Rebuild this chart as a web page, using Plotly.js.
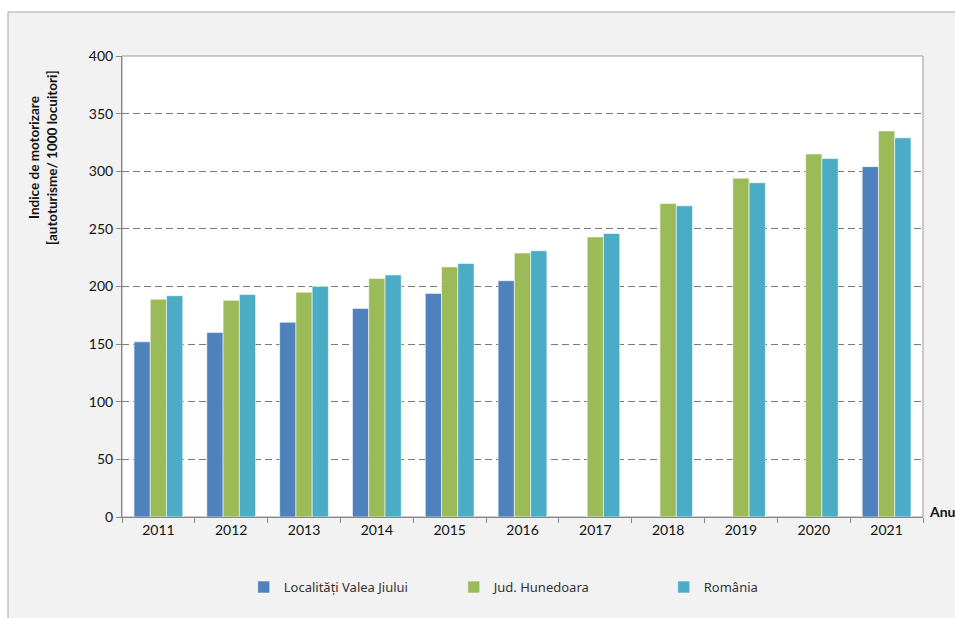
<!DOCTYPE html>
<html>
<head>
<meta charset="utf-8">
<script src="https://cdn.plot.ly/plotly-3.0.1.min.js"></script>
<style>html,body{margin:0;padding:0;background:#fff;}#chart{width:955px;height:618px;}</style>
</head>
<body>
<div id="chart"></div>
<script>
const years = ['2011','2012','2013','2014','2015','2016','2017','2018','2019','2020','2021'];
const valeaJiului = [152, 160, 169, 181, 194, 205, null, null, null, null, 304];
const hunedoara = [189, 188, 195, 207, 217, 229, 243, 272, 294, 315, 335];
const romania = [192, 193, 200, 210, 220, 231, 246, 270, 290, 311, 329];
const seriesNames = ['Localități Valea Jiului', 'Jud. Hunedoara', 'România'];
const seriesColors = ['#4f81bd', '#9bbb59', '#4bacc6'];
const yTitle = 'Indice de motorizare<br>[autoturisme/ 1000 locuitori]';
const xTitle = 'Anul';

const FONT = 'Lato, "Open Sans", sans-serif';
const data = [valeaJiului, hunedoara, romania].map((vals, i) => ({
  type: 'bar',
  x: years,
  y: vals,
  name: seriesNames[i],
  marker: {color: seriesColors[i], line: {color: 'rgba(255,255,255,0.55)', width: 1}},
  hoverinfo: 'x+y+name'
}));

const layout = {
  width: 955, height: 618,
  margin: {l: 122, r: 32, t: 56, b: 101, autoexpand: false},
  paper_bgcolor: '#ffffff',
  plot_bgcolor: 'rgba(0,0,0,0)',
  barmode: 'group',
  bargap: 0.33,
  bargroupgap: 0,
  showlegend: true,
  legend: {
    orientation: 'h', x: 0.152, xanchor: 'left', y: -0.152, yanchor: 'middle',
    font: {family: '"Noto Sans", sans-serif', size: 13, color: '#333'},
    entrywidth: 165, entrywidthmode: 'pixels',
    itemwidth: 30,
    bgcolor: 'rgba(0,0,0,0)'
  },
  xaxis: {
    type: 'category',
    tickson: 'boundaries',
    ticks: 'outside', ticklen: 5, tickcolor: '#878787',
    showline: true, linecolor: '#878787', linewidth: 1,
    showgrid: false,
    tickfont: {family: FONT, size: 14, color: '#111'},
    fixedrange: true
  },
  yaxis: {
    range: [0, 400],
    dtick: 50,
    ticks: 'outside', ticklen: 5, tickcolor: '#878787',
    showline: true, linecolor: '#878787', linewidth: 1,
    showgrid: true, gridcolor: '#7a7a7a', gridwidth: 1, griddash: '7px,4px',
    zeroline: false,
    tickfont: {family: FONT, size: 14, color: '#111'},
    fixedrange: true
  },
  shapes: [
    {type: 'rect', xref: 'paper', yref: 'paper', x0: -0.1423, x1: 1.2, y0: -0.4, y1: 1.0954,
     fillcolor: '#f2f2f2', line: {color: '#a6a6a6', width: 1}, layer: 'below'},
    {type: 'rect', xref: 'paper', yref: 'paper', x0: 0, x1: 1, y0: 0, y1: 1,
     fillcolor: '#ffffff', line: {color: '#9a9a9a', width: 1}, layer: 'below'}
  ],
  annotations: [
    {text: '<b>' + yTitle.replace('<br>', '</b><br><b>') + '</b>', xref: 'paper', yref: 'paper',
     x: -0.098, y: 0.78, xanchor: 'center', yanchor: 'middle', textangle: -90, showarrow: false,
     font: {family: FONT, size: 13.5, color: '#111'}},
    {text: '<b>' + xTitle + '</b>', xref: 'paper', yref: 'paper',
     x: 1.005, y: 0.012, xanchor: 'left', yanchor: 'middle', showarrow: false,
     font: {family: FONT, size: 14, color: '#111'}}
  ]
};

Plotly.newPlot('chart', data, layout, {displayModeBar: false, staticPlot: true});
</script>
</body>
</html>
